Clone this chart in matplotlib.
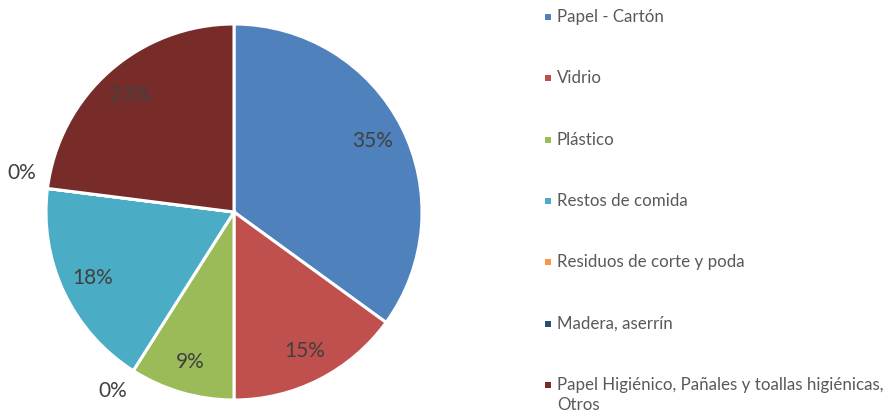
import numpy as np
import matplotlib
matplotlib.use("Agg")
import matplotlib.pyplot as plt
from matplotlib.patches import Rectangle

plt.rcParams['font.family'] = ['Lato', 'DejaVu Sans']

categorias = ['Papel - Cartón', 'Vidrio', 'Plástico', 'Restos de comida',
              'Residuos de corte y poda', 'Madera, aserrín',
              'Papel Higiénico, Pañales y toallas higiénicas,\nOtros']
porcentajes = [35, 15, 9, 18, 0, 0, 23]
colores = ['#4F81BD', '#C0504D', '#9BBB59', '#4BACC6', '#F79646', '#2C4D75', '#772C2A']
# where Excel put the labels of the empty slices (degrees)
angulo_cero = {4: -124, 5: 169.5}

fig = plt.figure(figsize=(8.92, 4.17), dpi=100)
ax = fig.add_axes([46/892, 17/417, 376/892, 376/417])

wedges, _ = ax.pie(porcentajes, colors=colores, startangle=90, counterclock=False,
                   wedgeprops=dict(edgecolor='white', linewidth=2.2))
ax.set_xlim(-1, 1)
ax.set_ylim(-1, 1)
ax.set_aspect('equal')
ax.axis('off')

for i, (w, v) in enumerate(zip(wedges, porcentajes)):
    if v > 0:
        a = np.deg2rad((w.theta1 + w.theta2) / 2)
        r = 0.83
    else:
        a = np.deg2rad(angulo_cero[i])
        r = 1.15
    ax.text(r*np.cos(a), r*np.sin(a), f'{v}%', ha='center', va='center',
            fontsize=15, color='#404040')

# legend
y0 = 17
paso = 61.3
for i, (nombre, c) in enumerate(zip(categorias, colores)):
    y = 417 - (y0 + i*paso)
    fig.patches.append(Rectangle(((545)/892, (y-3)/417), 6/892, 6/417,
                                 transform=fig.transFigure, facecolor=c, edgecolor='none'))
    fig.text(557/892, (y+8)/417, nombre, ha='left', va='top', fontsize=12.2,
             color='#595959', linespacing=1.3)

fig.savefig('out.png', dpi=100)
